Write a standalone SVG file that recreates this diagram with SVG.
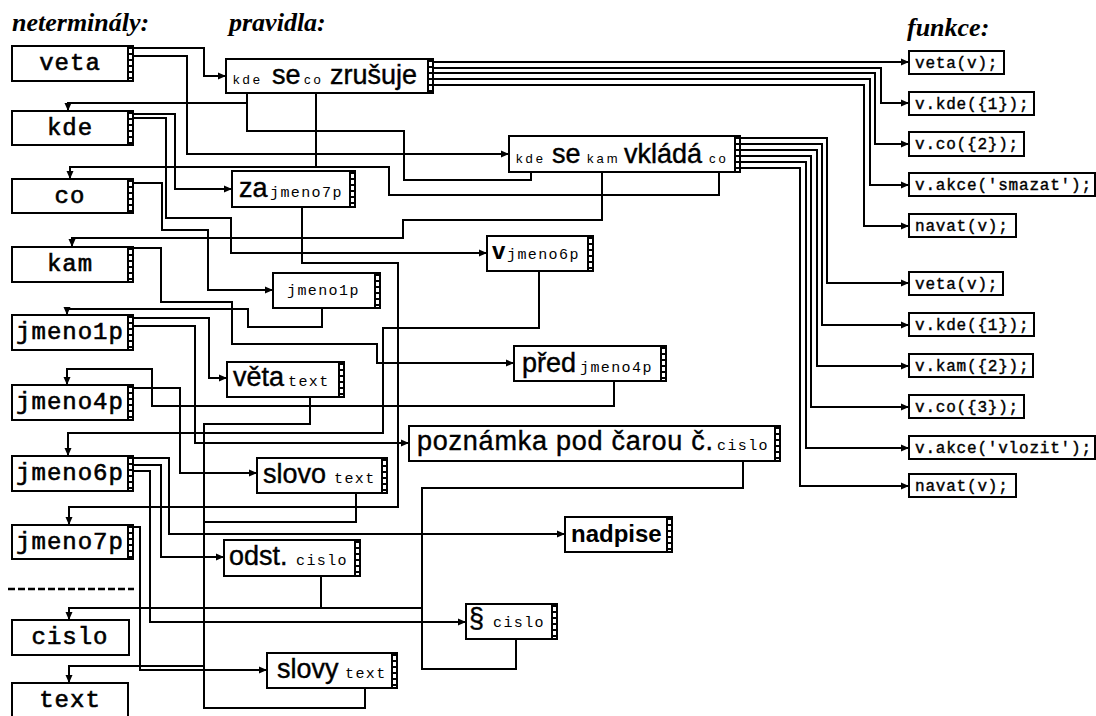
<svg xmlns="http://www.w3.org/2000/svg" width="1096" height="716" viewBox="0 0 1096 716">
<defs>
<marker id="ah" markerUnits="userSpaceOnUse" markerWidth="9" markerHeight="8" refX="8" refY="4" orient="auto"><path d="M0,0.5 L8,4 L0,7.5 z" fill="#000"/></marker>
</defs>
<style>
.box{fill:#fff;stroke:#000;stroke-width:2}
.sep{stroke:#000;stroke-width:2}
.cells{stroke:#000;stroke-width:3;stroke-dasharray:2 4}
.w{fill:none;stroke:#000;stroke-width:2}
.a{marker-end:url(#ah)}
.hd{font-family:"Liberation Serif",serif;font-style:italic;font-weight:bold;font-size:26px}
.nt{font-family:"Liberation Mono",monospace;font-size:24px;letter-spacing:1px;text-anchor:middle;stroke:#000;stroke-width:0.6px}
.big{font-family:"Liberation Sans",sans-serif;font-size:27px;stroke:#000;stroke-width:0.4px}
.bb{font-family:"Liberation Sans",sans-serif;font-size:24px;font-weight:bold}
.sm{font-family:"Liberation Sans",sans-serif;font-size:13px;letter-spacing:3px}
.mo{font-family:"Liberation Mono",monospace;font-size:15px;letter-spacing:1.4px}
.fn{font-family:"Liberation Mono",monospace;font-size:16px;letter-spacing:0.8px;stroke:#000;stroke-width:0.4px}
</style>
<rect width="1096" height="716" fill="#fff"/>
<g id="headers">
<text class="hd" x="12" y="31">neterminály:</text>
<text class="hd" x="229" y="31">pravidla:</text>
<text class="hd" x="907" y="36">funkce:</text>
</g>
<g id="connectors">
<path class="w a" d="M133,48H204V76H226"/>
<path class="w a" d="M133,56H187V154H509"/>
<path class="w a" d="M247,93V103H68V111"/>
<path class="w" d="M531,172V180H404V131H247V103"/>
<path class="w a" d="M316,93V167H70V179"/>
<path class="w" d="M719,172V195H389V167H316"/>
<path class="w a" d="M133,114H175V189H232"/>
<path class="w a" d="M133,118H166V218H231V253H487"/>
<path class="w a" d="M133,183H162V230H208V290H273"/>
<path class="w a" d="M602,172V220H403V238H72V247"/>
<path class="w a" d="M302,207V263H398V507H69V525"/>
<path class="w a" d="M133,248H161V302H232V344H377V363H514"/>
<path class="w a" d="M322,308V327H248V309H67V315"/>
<path class="w a" d="M133,318H209V378H227"/>
<path class="w a" d="M133,326H195V443H409"/>
<path class="w a" d="M614,381V406H152V369H67V385"/>
<path class="w a" d="M133,388H180V473H257"/>
<path class="w a" d="M539,271V328H383V433H68V456"/>
<path class="w a" d="M133,458H169V534H565"/>
<path class="w a" d="M133,465H161V557H224"/>
<path class="w a" d="M133,471H150V622H466"/>
<path class="w a" d="M133,527H140V670H267"/>
<path class="w a" d="M310,397V424H204V666H69V683"/>
<path class="w" d="M356,493V522H204"/>
<path class="w" d="M365,688V708H204V666"/>
<path class="w a" d="M422,608H69V620"/>
<path class="w" d="M321,576V608"/>
<path class="w" d="M743,461V488H422V669H516V639"/>
<path class="w a" d="M433,62H909"/>
<path class="w a" d="M433,68H881V103H909"/>
<path class="w a" d="M433,73H875V144H909"/>
<path class="w a" d="M433,79H870V185H909"/>
<path class="w a" d="M433,85H864V226H909"/>
<path class="w a" d="M740,138H827V283H909"/>
<path class="w a" d="M740,144H822V325H909"/>
<path class="w a" d="M740,150H817V366H909"/>
<path class="w a" d="M740,156H811V407H909"/>
<path class="w a" d="M740,162H806V448H909"/>
<path class="w a" d="M740,168H800V486H909"/>
</g>
<g id="n-veta"><rect class="box" x="12" y="46" width="121" height="35"/><line class="sep" x1="128" y1="46" x2="128" y2="81"/><line class="cells" x1="130.5" y1="47" x2="130.5" y2="80"/><text class="nt" x="70" y="70">veta</text></g>
<g id="n-kde"><rect class="box" x="12" y="111" width="121" height="34"/><line class="sep" x1="128" y1="111" x2="128" y2="145"/><line class="cells" x1="130.5" y1="112" x2="130.5" y2="144"/><text class="nt" x="70" y="135">kde</text></g>
<g id="n-co"><rect class="box" x="12" y="179" width="121" height="34"/><line class="sep" x1="128" y1="179" x2="128" y2="213"/><line class="cells" x1="130.5" y1="180" x2="130.5" y2="212"/><text class="nt" x="70" y="203">co</text></g>
<g id="n-kam"><rect class="box" x="12" y="247" width="121" height="35"/><line class="sep" x1="128" y1="247" x2="128" y2="282"/><line class="cells" x1="130.5" y1="248" x2="130.5" y2="281"/><text class="nt" x="70" y="271">kam</text></g>
<g id="n-jmeno1p"><rect class="box" x="12" y="315" width="121" height="35"/><line class="sep" x1="128" y1="315" x2="128" y2="350"/><line class="cells" x1="130.5" y1="316" x2="130.5" y2="349"/><text class="nt" x="70" y="339">jmeno1p</text></g>
<g id="n-jmeno4p"><rect class="box" x="12" y="385" width="121" height="35"/><line class="sep" x1="128" y1="385" x2="128" y2="420"/><line class="cells" x1="130.5" y1="386" x2="130.5" y2="419"/><text class="nt" x="70" y="409">jmeno4p</text></g>
<g id="n-jmeno6p"><rect class="box" x="12" y="456" width="121" height="35"/><line class="sep" x1="128" y1="456" x2="128" y2="491"/><line class="cells" x1="130.5" y1="457" x2="130.5" y2="490"/><text class="nt" x="70" y="480">jmeno6p</text></g>
<g id="n-jmeno7p"><rect class="box" x="12" y="525" width="121" height="34"/><line class="sep" x1="128" y1="525" x2="128" y2="559"/><line class="cells" x1="130.5" y1="526" x2="130.5" y2="558"/><text class="nt" x="70" y="549">jmeno7p</text></g>
<g id="separator"><line x1="8" y1="589" x2="134" y2="589" stroke="#000" stroke-width="2.5" stroke-dasharray="7 3"/></g>
<g id="n-cislo"><rect class="box" x="12" y="620" width="117" height="35"/><text class="nt" x="70" y="644">cislo</text></g>
<g id="n-text"><rect class="box" x="12" y="683" width="116" height="40"/><text class="nt" x="70" y="707">text</text></g>

<g id="r-zrusuje"><rect class="box" x="226" y="59" width="207" height="34"/><line class="sep" x1="428" y1="59" x2="428" y2="93"/><line class="cells" x1="430.5" y1="60" x2="430.5" y2="92"/>
<text y="84"><tspan class="sm" x="233">kde</tspan><tspan class="big" x="272">se</tspan><tspan class="sm" x="304">co</tspan><tspan class="big" x="330">zrušuje</tspan></text></g>
<g id="r-vklada"><rect class="box" x="509" y="136" width="231" height="36"/><line class="sep" x1="735" y1="136" x2="735" y2="172"/><line class="cells" x1="737.5" y1="137" x2="737.5" y2="171"/>
<text y="163"><tspan class="sm" x="516">kde</tspan><tspan class="big" x="552">se</tspan><tspan class="sm" x="587">kam</tspan><tspan class="big" x="624">vkládá</tspan><tspan class="sm" x="709">co</tspan></text></g>
<g id="r-za"><rect class="box" x="232" y="171" width="123" height="36"/><line class="sep" x1="350" y1="171" x2="350" y2="207"/><line class="cells" x1="352.5" y1="172" x2="352.5" y2="206"/>
<text y="197"><tspan class="big" x="239">za</tspan><tspan class="mo" x="270">jmeno7p</tspan></text></g>
<g id="r-v"><rect class="box" x="487" y="236" width="106" height="35"/><line class="sep" x1="588" y1="236" x2="588" y2="271"/><line class="cells" x1="590.5" y1="237" x2="590.5" y2="270"/>
<text y="259"><tspan class="bb" x="492">v</tspan><tspan class="mo" x="507">jmeno6p</tspan></text></g>
<g id="r-jmeno1p"><rect class="box" x="273" y="273" width="107" height="35"/><line class="sep" x1="375" y1="273" x2="375" y2="308"/><line class="cells" x1="377.5" y1="274" x2="377.5" y2="307"/>
<text class="mo" x="287" y="295">jmeno1p</text></g>
<g id="r-veta"><rect class="box" x="227" y="362" width="117" height="35"/><line class="sep" x1="339" y1="362" x2="339" y2="397"/><line class="cells" x1="341.5" y1="363" x2="341.5" y2="396"/>
<text y="386"><tspan class="big" x="233">věta</tspan><tspan class="mo" x="288">text</tspan></text></g>
<g id="r-pred"><rect class="box" x="514" y="346" width="152" height="35"/><line class="sep" x1="661" y1="346" x2="661" y2="381"/><line class="cells" x1="663.5" y1="347" x2="663.5" y2="380"/>
<text y="372"><tspan class="big" x="522">před</tspan><tspan class="mo" x="580">jmeno4p</tspan></text></g>
<g id="r-poznamka"><rect class="box" x="409" y="426" width="371" height="35"/><line class="sep" x1="775" y1="426" x2="775" y2="461"/><line class="cells" x1="777.5" y1="427" x2="777.5" y2="460"/>
<text class="big" x="417" y="450" textLength="296" lengthAdjust="spacing">poznámka pod čarou č.</text><text class="mo" x="717" y="450">cislo</text></g>
<g id="r-slovo"><rect class="box" x="257" y="458" width="130" height="35"/><line class="sep" x1="382" y1="458" x2="382" y2="493"/><line class="cells" x1="384.5" y1="459" x2="384.5" y2="492"/>
<text y="483"><tspan class="big" x="263">slovo</tspan><tspan class="mo" x="334">text</tspan></text></g>
<g id="r-nadpise"><rect class="box" x="565" y="517" width="107" height="35"/><line class="sep" x1="667" y1="517" x2="667" y2="552"/><line class="cells" x1="669.5" y1="518" x2="669.5" y2="551"/>
<text class="bb" x="571" y="542">nadpise</text></g>
<g id="r-odst"><rect class="box" x="224" y="540" width="136" height="36"/><line class="sep" x1="355" y1="540" x2="355" y2="576"/><line class="cells" x1="357.5" y1="541" x2="357.5" y2="575"/>
<text y="565"><tspan class="big" x="229">odst.</tspan><tspan class="mo" x="296">cislo</tspan></text></g>
<g id="r-paragraf"><rect class="box" x="466" y="604" width="91" height="35"/><line class="sep" x1="552" y1="604" x2="552" y2="639"/><line class="cells" x1="554.5" y1="605" x2="554.5" y2="638"/>
<text y="627"><tspan class="big" x="469">§</tspan><tspan class="mo" x="493">cislo</tspan></text></g>
<g id="r-slovy"><rect class="box" x="267" y="653" width="130" height="35"/><line class="sep" x1="392" y1="653" x2="392" y2="688"/><line class="cells" x1="394.5" y1="654" x2="394.5" y2="687"/>
<text y="678"><tspan class="big" x="277">slovy</tspan><tspan class="mo" x="345">text</tspan></text></g>

<g id="f-veta1"><rect class="box" x="909" y="51" width="95" height="23"/><text class="fn" x="915" y="68">veta(v);</text></g>
<g id="f-kde1"><rect class="box" x="909" y="92" width="125" height="23"/><text class="fn" x="915" y="109">v.kde({1});</text></g>
<g id="f-co2"><rect class="box" x="909" y="132" width="115" height="24"/><text class="fn" x="915" y="149">v.co({2});</text></g>
<g id="f-smazat"><rect class="box" x="909" y="173" width="186" height="23"/><text class="fn" x="915" y="190">v.akce('smazat');</text></g>
<g id="f-navat1"><rect class="box" x="909" y="214" width="107" height="23"/><text class="fn" x="915" y="231">navat(v);</text></g>
<g id="f-veta2"><rect class="box" x="909" y="272" width="94" height="23"/><text class="fn" x="915" y="289">veta(v);</text></g>
<g id="f-kde2"><rect class="box" x="909" y="313" width="125" height="23"/><text class="fn" x="915" y="330">v.kde({1});</text></g>
<g id="f-kam2"><rect class="box" x="909" y="354" width="124" height="23"/><text class="fn" x="915" y="371">v.kam({2});</text></g>
<g id="f-co3"><rect class="box" x="909" y="395" width="115" height="23"/><text class="fn" x="915" y="412">v.co({3});</text></g>
<g id="f-vlozit"><rect class="box" x="909" y="436" width="186" height="23"/><text class="fn" x="915" y="453">v.akce('vlozit');</text></g>
<g id="f-navat2"><rect class="box" x="909" y="474" width="107" height="23"/><text class="fn" x="915" y="491">navat(v);</text></g>
</svg>
